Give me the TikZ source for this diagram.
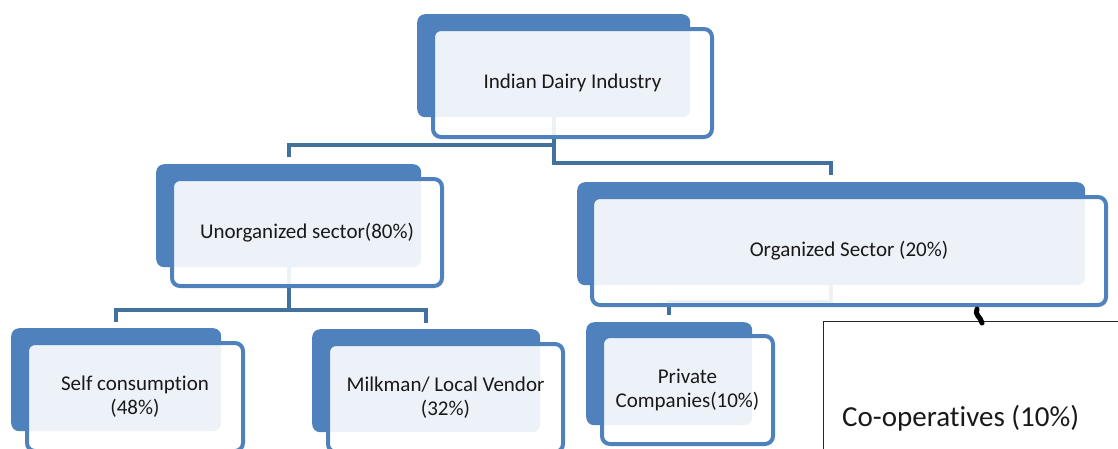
\documentclass[tikz,border=0pt]{standalone}
\usepackage{fontspec}
\setmainfont{Carlito}[Ligatures=NoCommon]
\usetikzlibrary{calc}
\definecolor{boxblue}{HTML}{4F81BD}
\definecolor{linkblue}{HTML}{41719C}
\begin{document}
\begin{tikzpicture}[x=1pt,y=-1pt,
  backbox/.style={fill=boxblue, rounded corners=8pt, inner sep=0pt, anchor=north west, minimum height=103pt},
  frontbox/.style={fill=white, fill opacity=0.9, text opacity=1, draw=boxblue, line width=4pt,
    rounded corners=8pt, inner sep=0pt, anchor=north west, align=center, text=black!90,
    minimum height=108pt, font=\fontsize{21}{24}\selectfont},
  conn/.style={draw=linkblue, line width=4pt}]
\useasboundingbox (0,0) rectangle (1118,448);
\clip (0,0) rectangle (1118,448);
% back boxes
\node[backbox, minimum width=273pt] (topB) at (417,14) {};
\node[backbox, minimum width=265pt] (unB) at (156,164) {};
\node[backbox, minimum width=508pt] (orgB) at (577,182) {};
\node[backbox, minimum width=210pt] (selfB) at (11,328) {};
\node[backbox, minimum width=228pt] (milkB) at (312,329) {};
\node[backbox, minimum width=166pt] (privB) at (586,322) {};
% connectors
\draw[conn] (topB.south) -- ++(0,28) -| ($(unB.north)+(0,-7)$);
\draw[conn] (topB.south) -- ++(0,46) -| ($(orgB.north)+(0,-7)$);
\draw[conn] (unB.south) -- ++(0,43) -| ($(selfB.north)+(0,-6)$);
\draw[conn] (unB.south) -- ++(0,43) -| ($(milkB.north)+(0,-6)$);
\draw[conn] (orgB.south) -- ++(0,17) -| ($(privB.north)+(0,-7)$);
% front boxes
\node[frontbox, minimum width=279pt] (topF) at (431,27) {Indian Dairy Industry};
\node[frontbox, minimum width=270pt, minimum height=107pt] (unF) at (170,177) {Unorganized sector(80\%)};
\node[frontbox, minimum width=514pt] (orgF) at (590,195) {Organized Sector (20\%)};
\node[frontbox, minimum width=216pt] (selfF) at (25,341) {Self consumption\\(48\%)};
\node[frontbox, minimum width=235pt] (milkF) at (326,342) {Milkman/ Local Vendor\\(32\%)};
\node[frontbox, minimum width=171pt] (privF) at (600,334) {Private\\Companies(10\%)};
% co-operatives
\node[draw=black!85, line width=1.2pt, anchor=north west, minimum width=320pt, minimum height=140pt, inner sep=0pt] (coop) at (823,321) {};
\node[anchor=west, inner sep=0pt, text=black!90, font=\fontsize{29}{34}\selectfont] (coopT) at (842,418) {Co-operatives (10\%)};
\draw[line width=5pt, line cap=round] ([xshift=128pt,yshift=-2pt]orgF.south) .. controls +(-3,6) and +(-1,-6) .. ([xshift=159pt,yshift=-2pt]coop.north west);
\end{tikzpicture}
\end{document}
